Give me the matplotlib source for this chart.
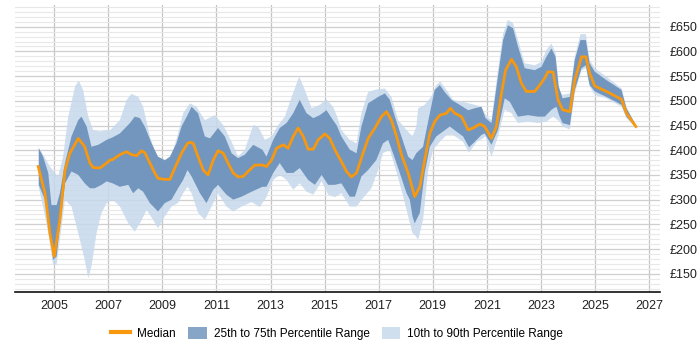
import matplotlib
matplotlib.use("Agg")
import matplotlib.pyplot as plt
from matplotlib.patches import Patch
from matplotlib.lines import Line2D
import numpy as np

plt.rcParams['font.family'] = ['Liberation Sans', 'DejaVu Sans']

# Median
med_t = [2004.41, 2004.66, 2004.84, 2005.00, 2005.21, 2005.40, 2005.58, 2005.89, 2006.13, 2006.32,
         2006.44, 2006.69, 2006.94, 2007.06, 2007.16, 2007.43, 2007.68, 2007.86, 2008.05, 2008.23,
         2008.35, 2008.54, 2008.72, 2008.84, 2009.09, 2009.28, 2009.46, 2009.71, 2009.93, 2010.02,
         2010.14, 2010.32, 2010.51, 2010.69, 2010.88, 2011.06, 2011.25, 2011.43, 2011.62, 2011.80,
         2011.99, 2012.17, 2012.42, 2012.70, 2012.85, 2013.04, 2013.22, 2013.47, 2013.65, 2013.84,
         2014.02, 2014.21, 2014.39, 2014.58, 2014.76, 2015.01, 2015.19, 2015.38, 2015.62, 2015.81,
         2015.99, 2016.18, 2016.42, 2016.61, 2016.86, 2017.10, 2017.29, 2017.47, 2017.66, 2017.84,
         2018.09, 2018.33, 2018.52, 2018.70, 2018.89, 2019.07, 2019.26, 2019.51, 2019.65, 2019.81,
         2020.06, 2020.31, 2020.49, 2020.74, 2020.92, 2021.17, 2021.35, 2021.54, 2021.69, 2021.91,
         2022.09, 2022.28, 2022.46, 2022.77, 2022.96, 2023.14, 2023.26, 2023.45, 2023.63, 2023.80,
         2024.07, 2024.25, 2024.50, 2024.66, 2024.80, 2024.99, 2025.42, 2025.98, 2026.16, 2026.51]
med_v = [367, 313, 233, 185, 259, 360, 394, 424, 407, 374,
         365, 364, 374, 380, 381, 391, 397, 391, 389, 399,
         395, 374, 354, 343, 341, 341, 364, 394, 414, 416,
         414, 387, 360, 350, 380, 399, 394, 374, 354, 346,
         347, 357, 370, 370, 367, 380, 404, 411, 404, 428,
         445, 428, 402, 402, 421, 433, 424, 401, 377, 357,
         346, 354, 394, 424, 445, 468, 478, 461, 428, 391,
         354, 306, 326, 380, 434, 458, 471, 475, 485, 475,
         468, 441, 445, 453, 448, 424, 448, 515, 562, 584,
         569, 535, 519, 519, 532, 546, 559, 558, 502, 482,
         478, 542, 589, 589, 556, 530, 519, 503, 475, 448]

# 75th percentile
p75_t = [2004.43, 2004.59, 2004.78, 2004.90, 2005.09, 2005.21, 2005.40, 2005.64, 2005.89, 2006.01,
         2006.20, 2006.38, 2006.63, 2006.94, 2007.16, 2007.43, 2007.80, 2007.98, 2008.17, 2008.35,
         2008.60, 2008.84, 2009.09, 2009.28, 2009.52, 2009.71, 2009.93, 2010.08, 2010.32, 2010.57,
         2010.76, 2011.06, 2011.31, 2011.56, 2011.80, 2012.05, 2012.36, 2012.70, 2012.85, 2013.10,
         2013.34, 2013.59, 2013.84, 2014.08, 2014.33, 2014.58, 2014.82, 2015.07, 2015.31, 2015.45,
         2015.62, 2015.93, 2016.18, 2016.36, 2016.61, 2016.98, 2017.23, 2017.41, 2017.60, 2017.84,
         2018.09, 2018.25, 2018.39, 2018.64, 2018.89, 2019.07, 2019.26, 2019.44, 2019.69, 2019.99,
         2020.31, 2020.55, 2020.80, 2020.95, 2021.17, 2021.41, 2021.60, 2021.78, 2021.97, 2022.15,
         2022.40, 2022.77, 2023.02, 2023.20, 2023.39, 2023.54, 2023.65, 2023.80, 2024.07, 2024.25,
         2024.46, 2024.66, 2024.80, 2024.99, 2025.42, 2025.98, 2026.16, 2026.51]
p75_v = [404, 387, 354, 289, 289, 313, 374, 428, 461, 468,
         448, 407, 411, 421, 426, 434, 455, 468, 465, 448,
         414, 387, 380, 387, 414, 448, 471, 488, 475, 428,
         424, 445, 428, 394, 384, 391, 411, 401, 387, 421,
         445, 455, 475, 502, 475, 465, 471, 481, 461, 450,
         428, 401, 394, 448, 495, 508, 515, 502, 468, 428,
         387, 380, 394, 407, 475, 522, 532, 518, 502, 492,
         481, 485, 488, 465, 455, 549, 623, 653, 647, 610,
         566, 562, 569, 589, 606, 589, 530, 505, 508, 583,
         623, 623, 576, 559, 542, 522, 485, 451]

# 25th percentile
p25_t = [2004.43, 2004.66, 2004.84, 2004.96, 2005.09, 2005.21, 2005.40, 2005.64, 2005.89, 2006.13,
         2006.32, 2006.50, 2006.75, 2006.94, 2007.16, 2007.43, 2007.74, 2007.92, 2008.11, 2008.29,
         2008.54, 2008.84, 2009.09, 2009.34, 2009.58, 2009.77, 2009.93, 2010.08, 2010.39, 2010.63,
         2010.88, 2011.06, 2011.37, 2011.62, 2011.93, 2012.30, 2012.70, 2012.85, 2013.10, 2013.34,
         2013.59, 2013.84, 2014.08, 2014.39, 2014.64, 2014.89, 2015.13, 2015.38, 2015.62, 2015.93,
         2016.12, 2016.36, 2016.61, 2016.91, 2017.16, 2017.35, 2017.53, 2017.78, 2018.03, 2018.15,
         2018.25, 2018.33, 2018.52, 2018.70, 2018.89, 2019.13, 2019.38, 2019.63, 2019.87, 2020.12,
         2020.34, 2020.55, 2020.80, 2020.92, 2021.17, 2021.41, 2021.66, 2021.85, 2022.15, 2022.52,
         2022.89, 2023.14, 2023.39, 2023.57, 2023.69, 2023.80, 2024.07, 2024.25, 2024.50, 2024.66,
         2024.80, 2024.99, 2025.42, 2025.98, 2026.16, 2026.51]
p25_v = [330, 300, 239, 178, 185, 246, 333, 357, 350, 333,
         323, 323, 330, 337, 333, 326, 330, 313, 323, 316,
         293, 276, 293, 300, 323, 340, 360, 347, 313, 293,
         320, 330, 310, 300, 306, 316, 326, 326, 354, 374,
         354, 354, 364, 340, 330, 350, 330, 330, 333, 306,
         306, 347, 360, 380, 414, 421, 394, 354, 313, 300,
         266, 252, 273, 354, 407, 428, 438, 448, 438, 428,
         406, 417, 431, 434, 411, 441, 505, 498, 468, 471,
         468, 468, 482, 488, 468, 455, 451, 522, 566, 572,
         532, 519, 508, 492, 468, 447]

# 90th percentile
p90_t = [2004.43, 2004.59, 2004.84, 2005.03, 2005.15, 2005.33, 2005.52, 2005.77, 2005.91, 2006.07,
         2006.26, 2006.44, 2006.69, 2006.94, 2007.06, 2007.43, 2007.68, 2007.86, 2008.11, 2008.29,
         2008.54, 2008.79, 2009.09, 2009.34, 2009.58, 2009.77, 2009.93, 2010.02, 2010.26, 2010.57,
         2010.94, 2011.25, 2011.56, 2011.80, 2012.05, 2012.36, 2012.54, 2012.70, 2012.79, 2013.04,
         2013.28, 2013.53, 2013.78, 2014.06, 2014.27, 2014.52, 2014.82, 2015.07, 2015.31, 2015.45,
         2015.62, 2015.93, 2016.18, 2016.36, 2016.61, 2016.91, 2017.23, 2017.47, 2017.72, 2018.03,
         2018.25, 2018.39, 2018.46, 2018.70, 2018.94, 2019.13, 2019.28, 2019.51, 2019.75, 2020.12,
         2020.55, 2020.80, 2020.92, 2021.02, 2021.17, 2021.41, 2021.60, 2021.78, 2021.97, 2022.15,
         2022.40, 2022.77, 2023.02, 2023.20, 2023.39, 2023.54, 2023.69, 2023.80, 2024.07, 2024.25,
         2024.46, 2024.66, 2024.80, 2024.99, 2025.42, 2025.98, 2026.16, 2026.51]
p90_v = [405, 391, 367, 354, 347, 387, 468, 529, 541, 522,
         468, 441, 438, 441, 440, 461, 502, 514, 508, 488,
         428, 387, 374, 387, 434, 475, 488, 495, 488, 461,
         471, 451, 417, 387, 401, 451, 448, 431, 421, 428,
         451, 468, 508, 549, 522, 485, 492, 503, 488, 470,
         441, 421, 414, 475, 518, 523, 525, 508, 461, 441,
         428, 448, 485, 492, 508, 532, 539, 522, 502, 498,
         492, 488, 475, 468, 461, 562, 636, 664, 657, 623,
         576, 572, 579, 603, 616, 596, 520, 512, 515, 589,
         635, 635, 583, 566, 549, 525, 488, 451]

# 10th percentile
p10_t = [2004.43, 2004.59, 2004.78, 2004.96, 2005.09, 2005.21, 2005.40, 2005.64, 2005.89, 2006.13,
         2006.26, 2006.38, 2006.57, 2006.75, 2006.94, 2007.16, 2007.43, 2007.74, 2007.98, 2008.17,
         2008.42, 2008.66, 2008.84, 2009.09, 2009.34, 2009.58, 2009.77, 2009.93, 2010.08, 2010.32,
         2010.57, 2010.82, 2011.06, 2011.37, 2011.62, 2011.93, 2012.30, 2012.60, 2012.85, 2013.10,
         2013.34, 2013.59, 2013.84, 2014.08, 2014.33, 2014.58, 2014.89, 2015.13, 2015.38, 2015.62,
         2015.93, 2016.18, 2016.42, 2016.73, 2016.98, 2017.16, 2017.41, 2017.60, 2017.84, 2018.09,
         2018.25, 2018.33, 2018.46, 2018.64, 2018.83, 2019.01, 2019.26, 2019.51, 2019.75, 2020.12,
         2020.34, 2020.62, 2020.86, 2020.95, 2021.17, 2021.41, 2021.66, 2021.91, 2022.15, 2022.52,
         2022.89, 2023.20, 2023.45, 2023.69, 2023.80, 2024.07, 2024.25, 2024.50, 2024.66, 2024.80,
         2024.99, 2025.42, 2025.98, 2026.16, 2026.51]
p10_v = [325, 286, 232, 168, 168, 219, 300, 286, 232, 178,
         141, 165, 233, 273, 293, 300, 286, 252, 235, 252,
         279, 259, 242, 266, 286, 293, 313, 326, 313, 273,
         259, 286, 313, 286, 276, 286, 295, 285, 305, 340,
         350, 340, 320, 333, 316, 310, 337, 310, 305, 313,
         286, 286, 303, 323, 360, 394, 401, 367, 320, 266,
         232, 229, 219, 259, 360, 401, 417, 431, 431, 417,
         395, 417, 424, 428, 387, 428, 482, 475, 455, 458,
         455, 458, 468, 458, 448, 442, 515, 562, 566, 529,
         512, 505, 488, 465, 445]

x_ticks = list(range(2005, 2028, 2))
y_ticks = list(range(150, 651, 50))

LIGHT = '#c6d9ec'
DARK = '#6b90ba'
ORANGE = '#f7980f'

fig = plt.figure(figsize=(7, 3.5), dpi=100)
ax = fig.add_axes([0.0214, 0.1657, 0.921, 0.82])

ax.fill(np.concatenate([p90_t, p10_t[::-1]]), np.concatenate([p90_v, p10_v[::-1]]),
        color=LIGHT, alpha=0.85, lw=0, zorder=2)
ax.fill(np.concatenate([p75_t, p25_t[::-1]]), np.concatenate([p75_v, p25_v[::-1]]),
        color=DARK, alpha=0.92, lw=0, zorder=3)
ax.plot(med_t, med_v, color=ORANGE, lw=2, zorder=4)

ax.set_xlim(2003.55, 2027.39)
ax.set_ylim(113, 694)
ax.set_xticks(x_ticks)
ax.set_yticks(y_ticks)
ax.set_yticks(list(range(120, 691, 10)), minor=True)
ax.set_yticklabels([f'£{v}' for v in y_ticks])
ax.yaxis.tick_right()
ax.tick_params(axis='y', which='both', length=0, pad=7, labelsize=9, colors='#222222')
ax.tick_params(axis='x', length=0, pad=6, labelsize=9, colors='#222222')

ax.grid(axis='y', which='major', color='#cfcfcf', lw=0.9, zorder=0)
ax.grid(axis='y', which='minor', color='#e8e8e8', lw=0.8, zorder=0)
ax.grid(axis='x', which='major', color='#c4c4c4', lw=0.9, zorder=0)
ax.set_axisbelow(True)
for s in ['top', 'right', 'left']:
    ax.spines[s].set_visible(False)
ax.spines['bottom'].set_color('#111111')
ax.spines['bottom'].set_linewidth(1.2)

handles = [Line2D([0], [0], color=ORANGE, lw=3),
           Patch(facecolor='#87a5c7', edgecolor='none'),
           Patch(facecolor='#cfdfee', edgecolor='none')]
labels = ['Median', '25th to 75th Percentile Range', '10th to 90th Percentile Range']
fig.legend(handles, labels, loc='center', bbox_to_anchor=(0.482, 0.048), ncol=3,
           frameon=False, fontsize=8.5, handlelength=1.6, handleheight=1.2,
           columnspacing=1.0, handletextpad=0.6)

fig.savefig('out.png', dpi=100)
